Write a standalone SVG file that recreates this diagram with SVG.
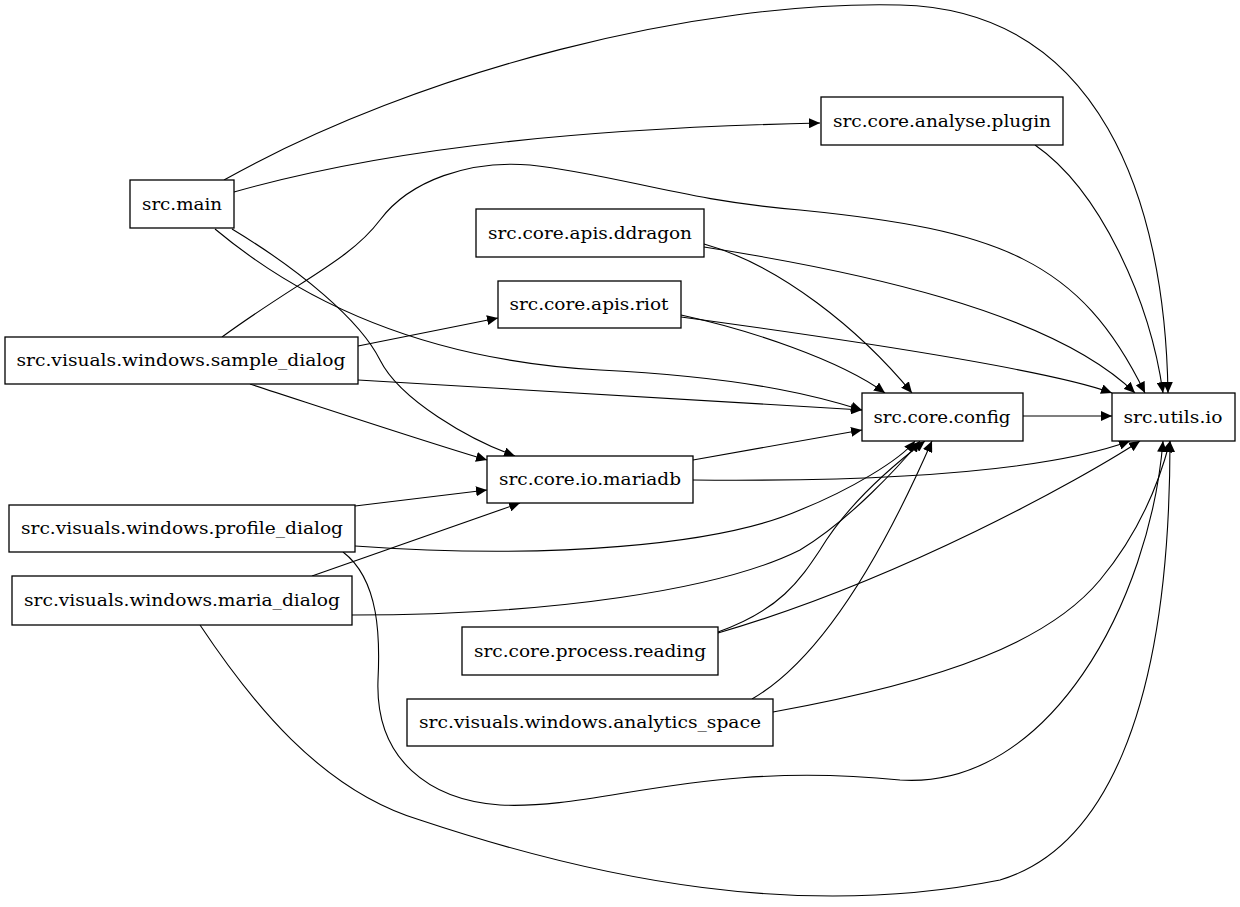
<svg xmlns="http://www.w3.org/2000/svg" width="1240" height="907" viewBox="0 0 1240 907">
<style>
.n rect{fill:#fff;stroke:#000;stroke-width:1.3}
.n text{font-family:"DejaVu Serif",serif;font-size:16px;text-anchor:middle;dominant-baseline:central}
#edges path{fill:none;stroke:#000;stroke-width:1.1;marker-end:url(#a)}
</style>
<defs><marker id="a" markerUnits="userSpaceOnUse" markerWidth="12" markerHeight="10" refX="11" refY="5" orient="auto"><path d="M0,0L11,5L0,10z" fill="#000"/></marker></defs>
<rect width="1240" height="907" fill="#fff"/>
<g id="edges">
<path d="M224,180 C420,70 700,0 900,5 C1100,10 1165,200 1168,393"/>
<path d="M234,192 C400,145 600,128 820,123"/>
<path d="M215,229 C300,300 420,360 600,370 C760,378 830,400 862,410"/>
<path d="M232,229 C300,270 360,320 380,360 C400,400 470,440 515,456"/>
<path d="M222,337 C300,280 350,260 380,220 C410,180 470,160 530,165 C620,175 680,200 800,210 C1000,230 1080,260 1145,393"/>
<path d="M358,346 L498,318"/>
<path d="M358,380 L862,410"/>
<path d="M250,384 C330,410 420,440 487,460"/>
<path d="M1035,145 C1100,190 1150,300 1163,393"/>
<path d="M704,244 C780,265 860,330 912,393"/>
<path d="M704,247 C850,270 1050,310 1135,393"/>
<path d="M681,315 C750,330 840,360 885,393"/>
<path d="M681,317 C850,340 1050,370 1112,393"/>
<path d="M1023,416 L1112,416"/>
<path d="M693,460 L862,430"/>
<path d="M693,480 C900,482 1050,470 1130,441"/>
<path d="M355,506 L487,490"/>
<path d="M355,546 C550,560 720,545 800,510 C850,490 900,460 915,441"/>
<path d="M343,552 C380,580 380,640 378,680 C375,760 430,800 500,805 C600,810 700,760 900,780 C1050,790 1150,600 1163,441"/>
<path d="M312,576 L520,503"/>
<path d="M352,615 C550,615 720,590 800,550 C850,520 900,465 920,441"/>
<path d="M200,625 C250,700 320,790 420,820 C600,880 800,920 1000,880 C1100,850 1170,720 1170,441"/>
<path d="M718,632 C780,610 800,580 820,550 C850,500 900,460 925,441"/>
<path d="M718,633 C900,580 1080,480 1140,441"/>
<path d="M752,699 C820,660 880,560 932,441"/>
<path d="M773,712 C950,680 1050,640 1100,580 C1150,520 1165,460 1170,441"/>
</g>
<g id="main" class="n"><rect x="130" y="180" width="104" height="48"/><text x="182" y="204" textLength="80" lengthAdjust="spacingAndGlyphs">src.main</text></g>
<g id="plugin" class="n"><rect x="821" y="97" width="242" height="48"/><text x="942" y="121" textLength="218" lengthAdjust="spacingAndGlyphs">src.core.analyse.plugin</text></g>
<g id="ddragon" class="n"><rect x="476" y="209" width="228" height="48"/><text x="590" y="233" textLength="204" lengthAdjust="spacingAndGlyphs">src.core.apis.ddragon</text></g>
<g id="riot" class="n"><rect x="498" y="281" width="183" height="47"/><text x="589" y="304" textLength="159" lengthAdjust="spacingAndGlyphs">src.core.apis.riot</text></g>
<g id="sample" class="n"><rect x="5" y="337" width="353" height="47"/><text x="181" y="360" textLength="329" lengthAdjust="spacingAndGlyphs">src.visuals.windows.sample_dialog</text></g>
<g id="config" class="n"><rect x="862" y="393" width="161" height="48"/><text x="942" y="417" textLength="137" lengthAdjust="spacingAndGlyphs">src.core.config</text></g>
<g id="utilsio" class="n"><rect x="1112" y="393" width="123" height="48"/><text x="1173" y="417" textLength="99" lengthAdjust="spacingAndGlyphs">src.utils.io</text></g>
<g id="mariadb" class="n"><rect x="487" y="456" width="206" height="47"/><text x="590" y="479" textLength="182" lengthAdjust="spacingAndGlyphs">src.core.io.mariadb</text></g>
<g id="profile" class="n"><rect x="9" y="505" width="346" height="47"/><text x="182" y="528" textLength="322" lengthAdjust="spacingAndGlyphs">src.visuals.windows.profile_dialog</text></g>
<g id="maria" class="n"><rect x="12" y="576" width="340" height="49"/><text x="182" y="600" textLength="316" lengthAdjust="spacingAndGlyphs">src.visuals.windows.maria_dialog</text></g>
<g id="reading" class="n"><rect x="462" y="627" width="256" height="48"/><text x="590" y="651" textLength="232" lengthAdjust="spacingAndGlyphs">src.core.process.reading</text></g>
<g id="analytics" class="n"><rect x="407" y="699" width="366" height="47"/><text x="590" y="722" textLength="342" lengthAdjust="spacingAndGlyphs">src.visuals.windows.analytics_space</text></g>
</svg>
